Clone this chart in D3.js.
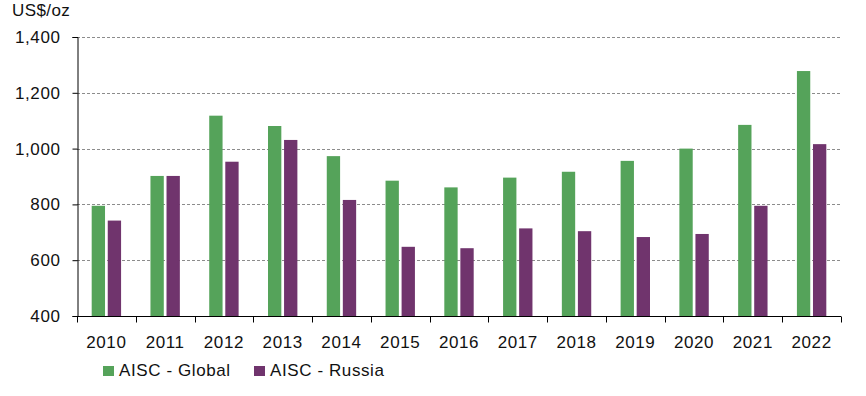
<!DOCTYPE html>
<meta charset="utf-8">
<html>
<style>
body { margin: 0; background: #fff; }
svg { font-family: "Liberation Sans", Arial, sans-serif; }
.grid line { stroke: #8c8c8c; stroke-dasharray: 3,2; stroke-width: 1px; }
.axis path, .axis line { stroke: #000; }
.axis text { font-size: 17px; fill: #111; letter-spacing: 0.6px; }
.legend text { font-size: 17px; fill: #111; letter-spacing: 0.6px; }
</style>
<body>
<script src="https://cdnjs.cloudflare.com/ajax/libs/d3/7.8.5/d3.min.js"></script>
<script>
	var years = ["2010","2011","2012","2013","2014","2015","2016","2017","2018","2019","2020","2021","2022"];
	var globalAisc = [795, 902, 1118, 1081, 973, 885, 861, 896, 917, 956, 1000, 1085, 1278];
	var russiaAisc = [742, 902, 953, 1031, 816, 648, 643, 714, 704, 683, 694, 795, 1016];
	var seriesNames = ["AISC - Global", "AISC - Russia"];
	var colors = ["#55a35a", "#70346d"];
	var yTicks = [400, 600, 800, 1000, 1200, 1400];

	var width = 866;
	var height = 396;
	var margin = {top: 37, right: 25, bottom: 80, left: 77};

	var svg = d3.select("body")
		.append("svg")
		.attr("width", width)
		.attr("height", height);

	var x = d3.scaleBand()
		.domain(years)
		.range([margin.left, width - margin.right]);

	// bars sit in the middle half of each band, with a small gap between them
	var x1 = d3.scaleBand()
		.domain([0, 1])
		.range([x.bandwidth() * 0.25, x.bandwidth() * 0.75])
		.paddingInner(0.17);

	var y = d3.scaleLinear()
		.domain([400, 1400])
		.range([height - margin.bottom, margin.top]);

	// dashed gridlines
	svg.append("g")
		.attr("class", "grid")
		.selectAll("line")
		.data(yTicks.slice(1))
		.enter()
		.append("line")
		.attr("x1", margin.left)
		.attr("x2", width - margin.right)
		.attr("y1", d => Math.round(y(d)) + 0.5)
		.attr("y2", d => Math.round(y(d)) + 0.5);

	var rows = years.map((yr, i) => ({year: yr, values: [globalAisc[i], russiaAisc[i]]}));

	svg.append("g")
		.selectAll("g")
		.data(rows)
		.enter()
		.append("g")
		.attr("transform", d => "translate(" + x(d.year) + ",0)")
		.selectAll("rect")
		.data(d => d.values)
		.enter()
		.append("rect")
		.attr("x", (d, i) => x1(i))
		.attr("width", x1.bandwidth())
		.attr("y", d => y(d))
		.attr("height", d => y(400) - y(d))
		.attr("fill", (d, i) => colors[i]);

	// y axis
	svg.append("g")
		.attr("class", "axis")
		.attr("transform", "translate(" + (margin.left + 0.5) + ",0)")
		.call(d3.axisLeft(y).tickValues(yTicks).tickSize(5).tickPadding(12).tickFormat(d3.format(",")));

	// x axis with ticks at band edges
	var xAxis = svg.append("g")
		.attr("class", "axis")
		.attr("transform", "translate(0," + (y(400) + 0.5) + ")");
	xAxis.append("line")
		.attr("x1", margin.left)
		.attr("x2", width - margin.right)
		.attr("stroke", "#000");
	xAxis.selectAll(".edge")
		.data(years.map(d => x(d)).concat([x.range()[1]]))
		.enter()
		.append("line")
		.attr("class", "edge")
		.attr("x1", d => Math.round(d) + 0.5)
		.attr("x2", d => Math.round(d) + 0.5)
		.attr("y1", 0)
		.attr("y2", 6)
		.attr("stroke", "#000");
	xAxis.selectAll("text")
		.data(years)
		.enter()
		.append("text")
		.attr("x", d => x(d) + x.bandwidth() / 2)
		.attr("y", 31)
		.attr("text-anchor", "middle")
		.text(d => d);

	svg.append("text")
		.attr("x", 12)
		.attr("y", 16)
		.style("font-size", "17px")
		.style("letter-spacing", "0.4px")
		.attr("fill", "#111")
		.text("US$/oz");

	// legend
	var legend = svg.append("g")
		.attr("class", "legend")
		.selectAll("g")
		.data(seriesNames)
		.enter()
		.append("g")
		.attr("transform", (d, i) => "translate(" + (103 + i * 151) + ",366)");
	legend.append("rect")
		.attr("width", 11)
		.attr("height", 10)
		.attr("fill", (d, i) => colors[i]);
	legend.append("text")
		.attr("x", 16)
		.attr("y", 10)
		.text(d => d);
</script>
</body>
</html>
